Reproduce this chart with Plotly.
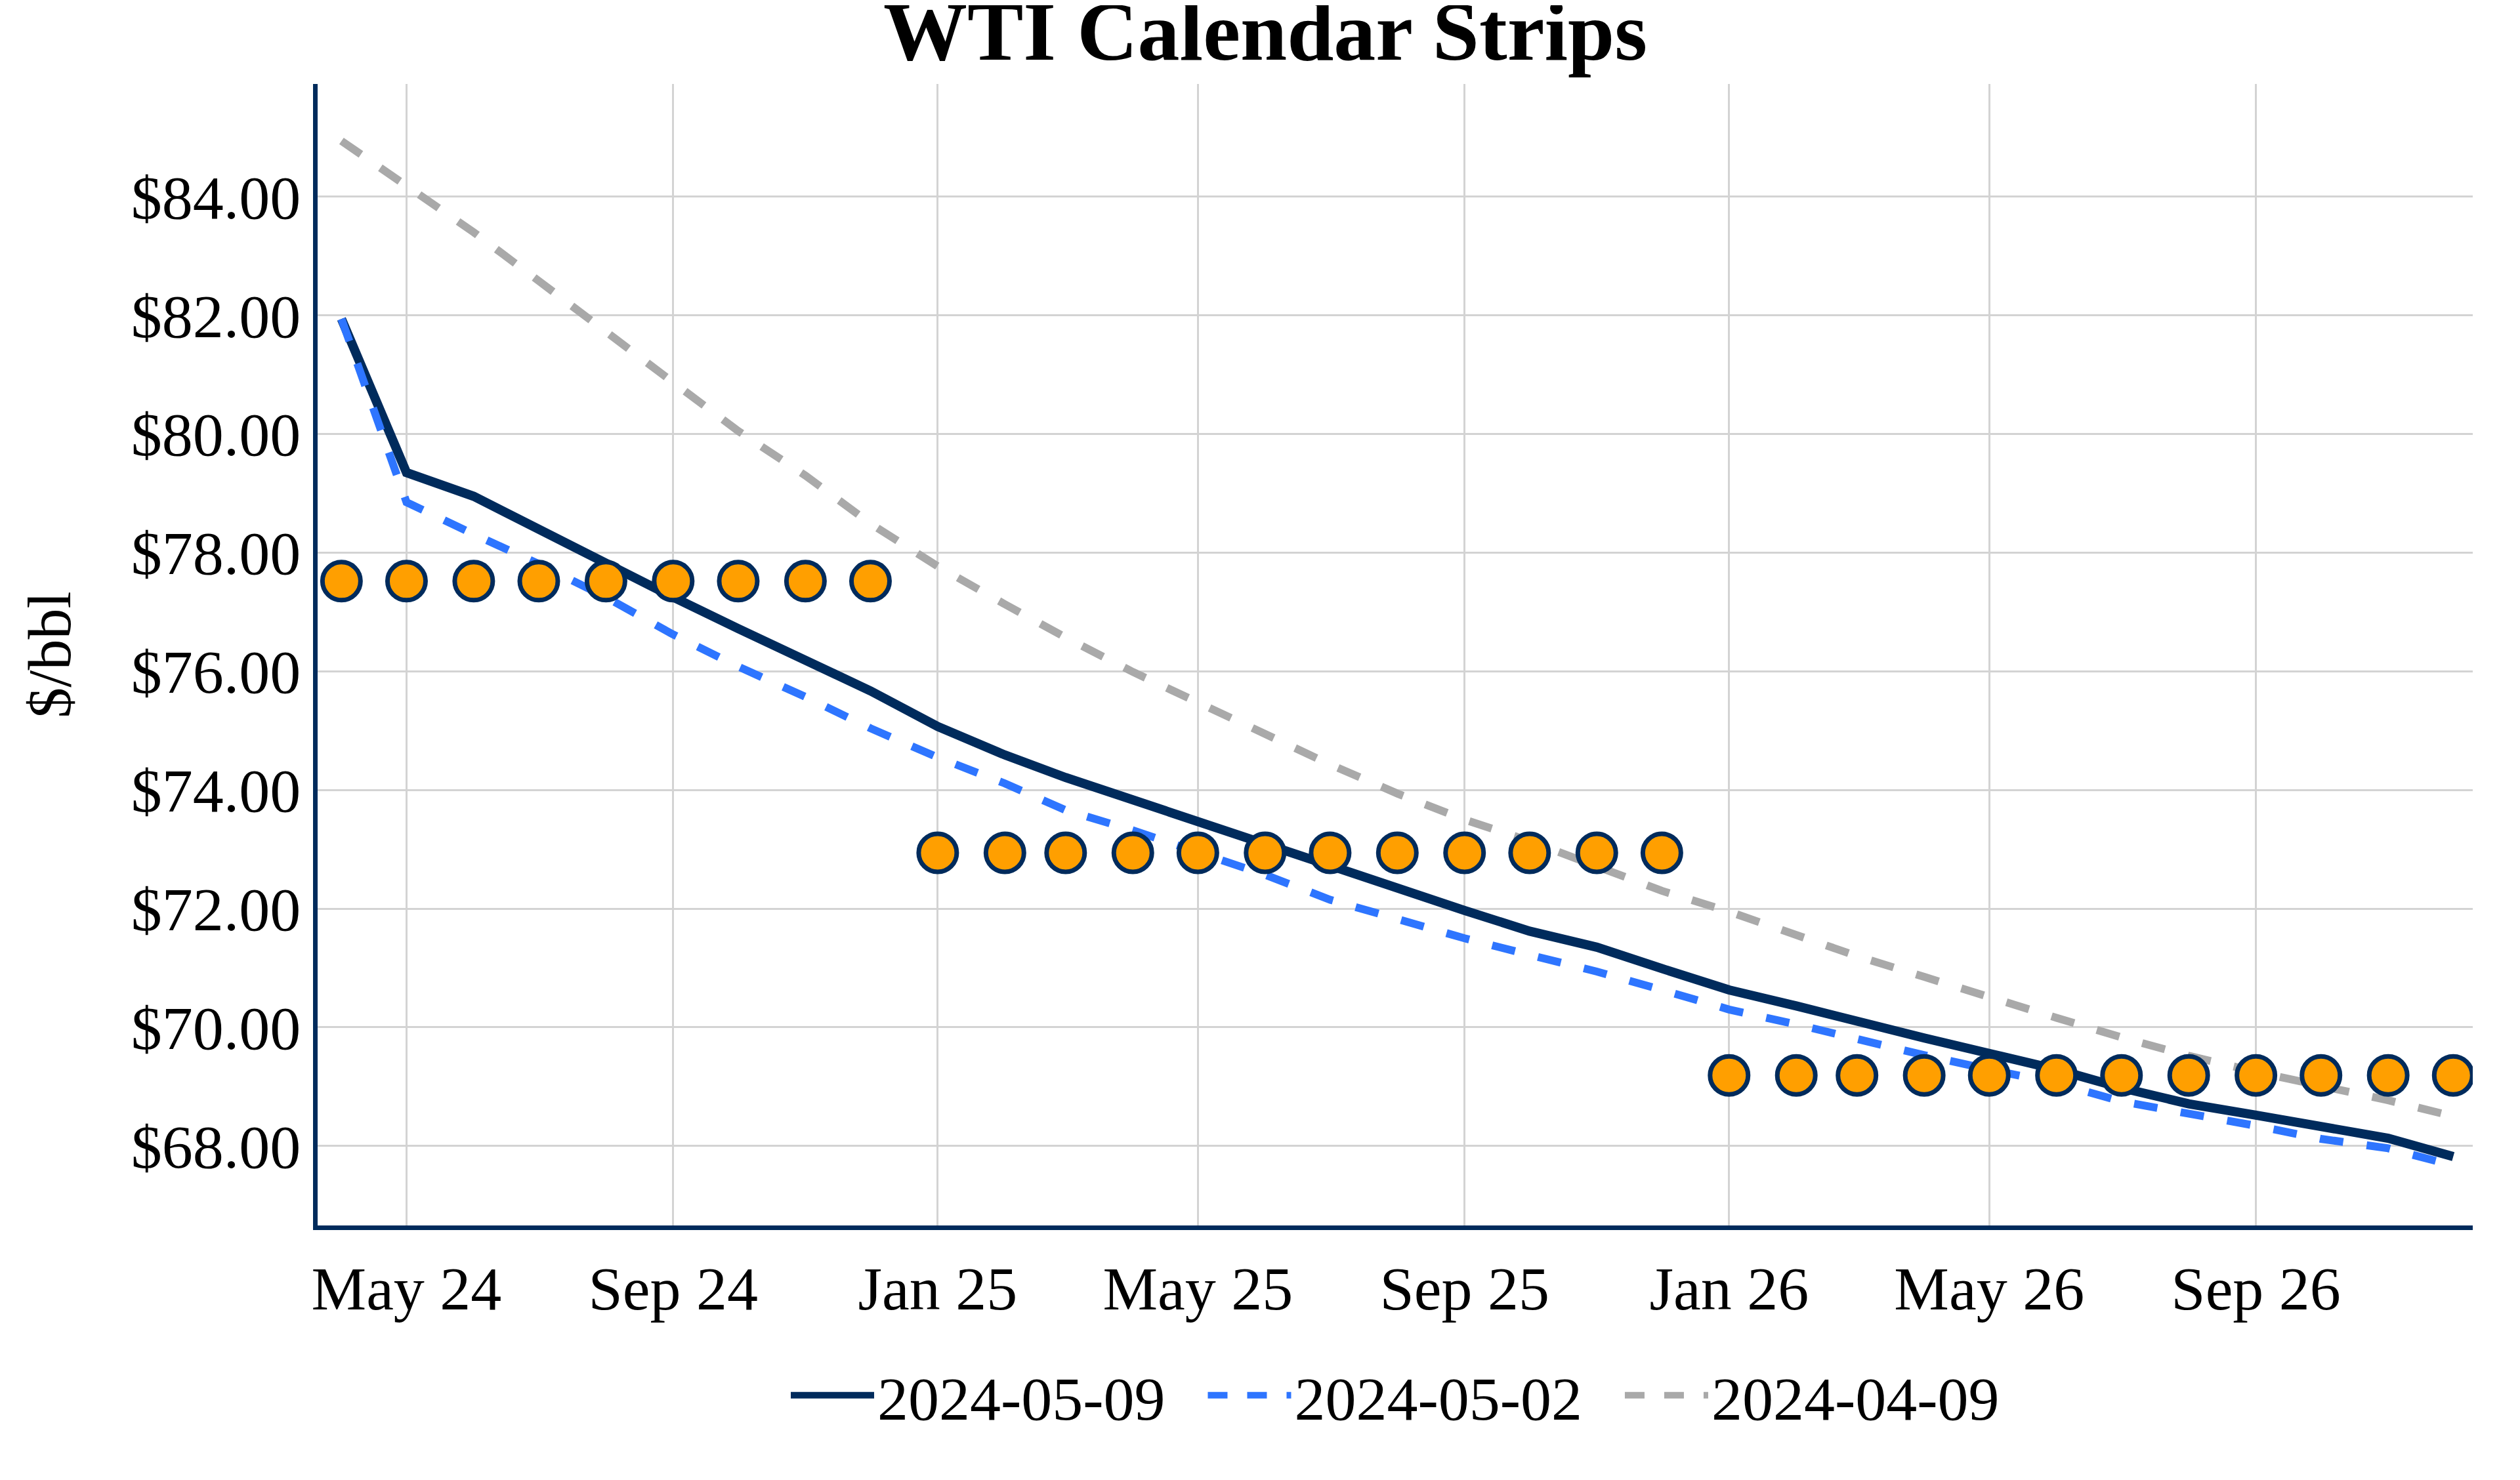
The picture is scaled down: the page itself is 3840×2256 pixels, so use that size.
import plotly.graph_objects as go

months = ["2024-04-01", "2024-05-01", "2024-06-01", "2024-07-01", "2024-08-01", "2024-09-01",
          "2024-10-01", "2024-11-01", "2024-12-01",
          "2025-01-01", "2025-02-01", "2025-03-01", "2025-04-01", "2025-05-01", "2025-06-01",
          "2025-07-01", "2025-08-01", "2025-09-01", "2025-10-01", "2025-11-01", "2025-12-01",
          "2026-01-01", "2026-02-01", "2026-03-01", "2026-04-01", "2026-05-01", "2026-06-01",
          "2026-07-01", "2026-08-01", "2026-09-01", "2026-10-01", "2026-11-01", "2026-12-01"]

curve_2024_05_09 = [81.94, 79.35, 78.95, 78.39, 77.81, 77.25, 76.72, 76.17, 75.67,
                    75.07, 74.59, 74.21, 73.83, 73.45, 73.10, 72.72, 72.34, 71.97, 71.62, 71.35, 70.99,
                    70.63, 70.36, 70.09, 69.82, 69.56, 69.29, 68.98, 68.71, 68.52, 68.32, 68.13, 67.82]

curve_2024_05_02 = [81.94, 78.85, 78.31, 77.81, 77.25, 76.62, 76.08, 75.57, 75.04,
                    74.55, 74.11, 73.66, 73.32, 72.94, 72.57, 72.15, 71.81, 71.50, 71.22, 70.94, 70.63,
                    70.30, 70.05, 69.79, 69.53, 69.29, 69.06, 68.75, 68.55, 68.34, 68.12, 67.96, 67.67]

curve_2024_04_09 = [84.94, 84.19, 83.40, 82.58, 81.71, 80.87, 80.05, 79.30, 78.49,
                    77.77, 77.13, 76.57, 75.99, 75.48, 74.92, 74.43, 73.94, 73.50, 73.14, 72.71, 72.30,
                    71.95, 71.55, 71.20, 70.85, 70.50, 70.16, 69.83, 69.52, 69.25, 69.02, 68.77, 68.50]

# Calendar strip averages (latest curve), one value per year
strip_years = ["2024", "2025", "2026"]
strip_values = [77.52, 72.94, 69.19]

series_names = ["2024-05-09", "2024-05-02", "2024-04-09"]

NAVY = "#002B5C"
BLUE = "#2E75FF"
GRAY = "#A9A9A9"
ORANGE = "#FF9F00"
FONT = "Liberation Serif"

strip_x = list(months)
strip_y = [strip_values[strip_years.index(m[:4])] for m in months]

PAD = "\u00a0\u00a0\u200a"  # spacing between legend items

fig = go.Figure()
fig.add_trace(go.Scatter(x=months, y=curve_2024_05_09, mode="lines", name=series_names[0] + PAD,
                         line=dict(color=NAVY, width=14)))
fig.add_trace(go.Scatter(x=months, y=curve_2024_05_02, mode="lines", name=series_names[1] + PAD,
                         line=dict(color=BLUE, width=12, dash="dash")))
fig.add_trace(go.Scatter(x=months, y=curve_2024_04_09, mode="lines", name=series_names[2],
                         line=dict(color=GRAY, width=12, dash="dash")))
fig.add_trace(go.Scatter(x=strip_x, y=strip_y, mode="markers", name="Strip", showlegend=False,
                         marker=dict(color=ORANGE, size=58, line=dict(color=NAVY, width=7))))

fig.update_layout(
    width=3840, height=2256,
    paper_bgcolor="white", plot_bgcolor="white",
    margin=dict(l=476, r=80, t=120, b=396),
    font=dict(family=FONT, size=94, color="black"),
    title=dict(text="WTI Calendar Strips", x=0.5, xref="container", xanchor="center",
               y=1 - 38 / 2256, yref="container", yanchor="middle",
               font=dict(family=FONT, size=128, color="black", weight="bold")),
    legend=dict(orientation="h", x=0.5, xanchor="center", y=-0.149, yanchor="middle",
                font=dict(family=FONT, size=94), itemwidth=127, bgcolor="rgba(0,0,0,0)"),
    showlegend=True,
)
fig.update_xaxes(
    type="date", range=["2024-03-21", "2026-12-10"],
    tick0="2024-01-01", dtick="M4", tickformat="%b %y",
    showgrid=True, gridcolor="#D3D3D3", gridwidth=3,
    showline=True, linecolor=NAVY, linewidth=7,
    ticks="", ticklabelstandoff=8, zeroline=False,
)
fig.update_yaxes(
    range=[66.66, 85.90], dtick=2, tick0=68, tickprefix="$", tickformat=".2f",
    showgrid=True, gridcolor="#D3D3D3", gridwidth=3,
    showline=True, linecolor=NAVY, linewidth=7,
    ticks="", ticklabelstandoff=0, zeroline=False,
    title=dict(text="$/bbl", standoff=63, font=dict(family=FONT, size=94)),
)

fig.write_html("out.html")
